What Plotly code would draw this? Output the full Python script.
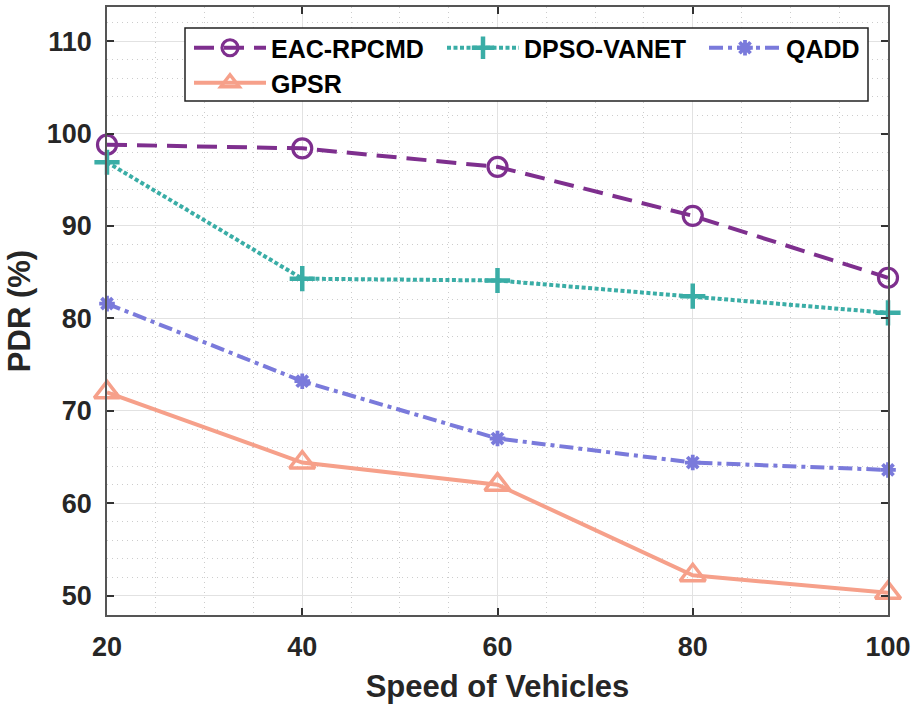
import plotly.graph_objects as go

# Packet delivery ratio versus vehicle speed for four routing protocols
speeds = [20, 40, 60, 80, 100]
eac_rpcmd = [98.8, 98.4, 96.4, 91.1, 84.4]
dpso_vanet = [96.9, 84.3, 84.1, 82.4, 80.6]
qadd = [81.6, 73.2, 67.0, 64.4, 63.6]
gpsr = [72.0, 64.4, 62.0, 52.2, 50.3]

x_ticks = [20, 40, 60, 80, 100]
y_ticks = [50, 60, 70, 80, 90, 100, 110]

FONT = "Liberation Sans"
TXT = "#262626"

W, H = 914, 705
ML, MR, MT, MB = 107, 26, 7, 90
PW, PH = W - ML - MR, H - MT - MB


def px_x(v):
    return (v - ML) / PW


def px_y(v):
    return (H - MB - v) / PH


series = [
    ("EAC-RPCMD", eac_rpcmd, "#7E2F8E", "20px,10px",
     dict(symbol="circle-open", size=19, line=dict(width=3.2, color="#7E2F8E")),
     "legend", (189, 48)),
    ("DPSO-VANET", dpso_vanet, "#3AADA6", "4px,2.5px",
     dict(symbol="cross-thin-open", size=18, line=dict(width=4.5, color="#3AADA6")),
     "legend2", (442, 48)),
    ("QADD", qadd, "#7A7ADB", "14px,5px,4px,5px",
     dict(symbol="asterisk-open", size=13, line=dict(width=3.8, color="#7A7ADB")),
     "legend3", (704, 48)),
    ("GPSR", gpsr, "#F6A08A", "solid",
     dict(symbol="triangle-up-open", size=22, line=dict(width=3.5, color="#F6A08A")),
     "legend4", (189, 83)),
]

fig = go.Figure()
legends = {}
for name, vals, color, dash, marker, leg, (lx, ly) in series:
    fig.add_trace(go.Scatter(
        x=speeds, y=vals, name=name, mode="lines+markers",
        line=dict(color=color, width=4, dash=dash),
        marker=marker, cliponaxis=False, legend=leg,
    ))
    legends[leg] = dict(
        x=px_x(lx), y=px_y(ly), xanchor="left", yanchor="middle",
        bgcolor="rgba(0,0,0,0)", borderwidth=0, itemwidth=72,
        font=dict(family=FONT, size=25, color="black", weight="bold"),
    )

axis_common = dict(
    showline=True, linecolor="#555555", linewidth=1.5, mirror="ticks",
    ticks="inside", ticklen=7, tickwidth=1.5, tickcolor="#333333",
    showgrid=True, gridcolor="#e2e2e2", gridwidth=1,
    tickfont=dict(family=FONT, size=27, color=TXT, weight="bold"),
    zeroline=False, automargin=False,
)
minor_grid = dict(showgrid=True, gridcolor="#cccccc", griddash="1px,4px",
                  gridwidth=1, ticks="")

fig.update_xaxes(
    range=[20, 100], tickvals=x_ticks, ticklabelstandoff=7,
    minor=dict(dtick=5, **minor_grid),
    title=dict(text="Speed of Vehicles", standoff=14,
               font=dict(family=FONT, size=31, color=TXT, weight="bold")),
    **axis_common,
)
fig.update_yaxes(
    range=[47.9, 113.7], tickvals=y_ticks, ticklabelstandoff=8,
    minor=dict(dtick=2, **minor_grid),
    title=dict(text="PDR (%)", standoff=7,
               font=dict(family=FONT, size=31, color=TXT, weight="bold")),
    **axis_common,
)

# Legend frame shared by the four legend entries
fig.add_shape(
    type="rect", xref="paper", yref="paper", layer="above",
    x0=px_x(185), x1=px_x(868), y0=px_y(101), y1=px_y(28),
    fillcolor="white", line=dict(color="#222222", width=1.5),
)

fig.update_layout(
    width=W, height=H,
    margin=dict(l=ML, r=MR, t=MT, b=MB, autoexpand=False),
    paper_bgcolor="white", plot_bgcolor="white",
    showlegend=True,
    **legends,
)

fig.write_html("out.html")
